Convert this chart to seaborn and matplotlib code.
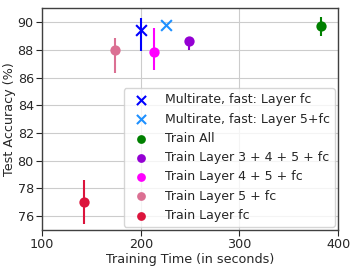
import matplotlib
matplotlib.use("Agg")
import matplotlib.pyplot as plt
import pandas as pd
import seaborn as sns

labels = ["Multirate, fast: Layer fc", "Multirate, fast: Layer 5+fc", "Train All",
          "Train Layer 3 + 4 + 5 + fc", "Train Layer 4 + 5 + fc",
          "Train Layer 5 + fc", "Train Layer fc"]
train_time = [200, 226, 383, 249, 213, 174, 142]
accuracy = [89.45, 89.75, 89.7, 88.6, 87.83, 87.97, 77.0]
err_low = [1.55, 0.0, 0.7, 0.6, 1.31, 1.61, 1.53]
err_high = [0.84, 0.0, 0.68, 0.0, 1.74, 0.89, 1.61]
colors = ["blue", "dodgerblue", "green", "darkviolet", "magenta", "palevioletred", "crimson"]
markers = ["x", "x", "o", "o", "o", "o", "o"]

df = pd.DataFrame({"label": labels, "time": train_time, "acc": accuracy})

sns.set_style("whitegrid", {"axes.edgecolor": "0.25", "grid.color": "0.8"})
plt.rcParams['font.family'] = ['DejaVu Sans']

fig = plt.figure(figsize=(3.57, 2.72), dpi=100)
ax = fig.add_axes([0.118, 0.154, 0.829, 0.816])

for i in range(len(labels)):
    if err_low[i] + err_high[i] > 0:
        ax.errorbar(train_time[i], accuracy[i], yerr=[[err_low[i]], [err_high[i]]],
                    fmt='none', ecolor=colors[i], elinewidth=1.5, zorder=2)
    row = df.iloc[[i]]
    if markers[i] == "x":
        sns.scatterplot(data=row, x="time", y="acc", marker="x", color=colors[i],
                        s=60, linewidth=1.5, ax=ax, zorder=3, label=labels[i])
    else:
        sns.scatterplot(data=row, x="time", y="acc", marker="o", color=colors[i],
                        s=55, linewidth=0, ax=ax, zorder=3, label=labels[i])

ax.set_xlim(100, 400)
ax.set_ylim(75, 91)
ax.set_xticks([100, 200, 300, 400])
ax.set_yticks([76, 78, 80, 82, 84, 86, 88, 90])
ax.tick_params(labelsize=9.2, length=4, pad=2, left=True, bottom=True)
ax.set_xlabel("Training Time (in seconds)", fontsize=9.2, labelpad=1)
ax.set_ylabel("Test Accuracy (%)", fontsize=9.2, labelpad=1)
for s in ax.spines.values():
    s.set_linewidth(1.0)

leg = ax.legend(loc="lower right", fontsize=9, frameon=True, borderaxespad=0.25,
                handletextpad=0.9, labelspacing=0.5, markerscale=0.85)

plt.savefig("out.png", dpi=100)
